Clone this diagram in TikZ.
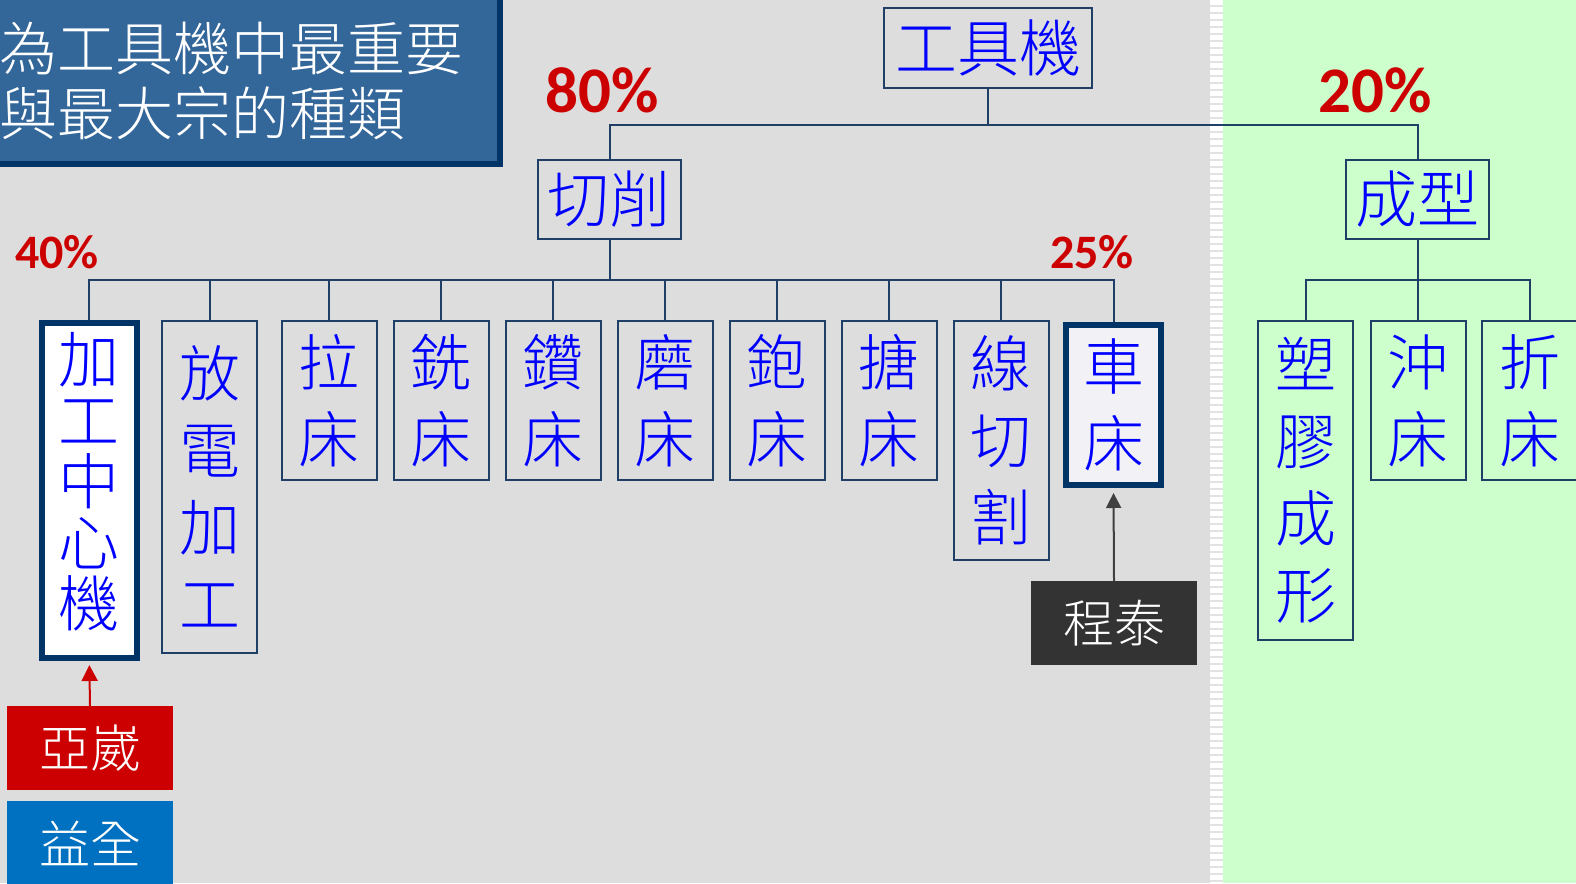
\documentclass[tikz,border=0pt]{standalone}
\usepackage{fontspec}
\newfontfamily\cjk{Noto Sans CJK TC}[UprightFont={* Light}]
\newfontfamily\pctfont{Carlito}
\usetikzlibrary{positioning,arrows.meta}

\definecolor{bggray}{HTML}{DDDDDD}
\definecolor{bggreen}{HTML}{CCFFCC}
\definecolor{stripegray}{HTML}{E2E2E2}
\definecolor{navy}{HTML}{1F3F66}
\definecolor{darknavy}{HTML}{003366}
\definecolor{titleblue}{HTML}{336699}
\definecolor{cjkblue}{HTML}{0000FF}
\definecolor{pctred}{HTML}{CC0000}
\definecolor{corpblue}{HTML}{0070C0}
\definecolor{corpdark}{HTML}{333333}
\definecolor{arrowgray}{HTML}{404040}
\definecolor{lightfill}{HTML}{F2F2F6}

\tikzset{
  tbox/.style={draw=navy, line width=2pt, inner sep=0pt, text=cjkblue, align=center,
    minimum width=95pt, anchor=north, font=\cjk\fontsize{61}{77}\selectfont},
  hibox/.style={tbox, draw=darknavy, line width=6pt},
  topbox/.style={draw=navy, line width=2pt, inner sep=0pt, text=cjkblue,
    minimum width=143pt, minimum height=79pt, font=\cjk\fontsize{62}{62}\selectfont},
  pct/.style={text=pctred, inner sep=0pt, font=\pctfont\bfseries\fontsize{65}{65}\selectfont},
  corp/.style={text=white, inner sep=0pt, minimum width=166pt, minimum height=84pt,
    font=\cjk\fontsize{51}{51}\selectfont},
  link/.style={draw=navy, line width=2pt},
}

\begin{document}
\begin{tikzpicture}[x=1pt, y=-1pt]
\useasboundingbox (0,0) rectangle (1576,883);

% background
\fill[bggray] (0,0) rectangle (1223,883);
\fill[stripegray] (1210,0) rectangle (1223,883);
\draw[white, line width=13pt, dash pattern=on 5pt off 2pt] (1216.5,0) -- (1216.5,883);
\fill[bggreen] (1223,0) rectangle (1576,883);

% title
\node[draw=darknavy, line width=6pt, fill=titleblue, text=white, anchor=north west,
  inner xsep=2pt, inner ysep=0pt, text width=498.5pt, minimum height=167pt, align=left,
  font=\cjk\fontsize{58}{65}\selectfont] (title) at (-6,-6) {為工具機中最重要\\與最大宗的種類};

% tree
\node[topbox, minimum width=208pt] (root) at (988,48) {工具機};
\node[topbox] (cut) at (609.5,199.5) {切削};
\node[topbox] (form) at (1417.5,199.5) {成型};

\node[hibox, fill=white, minimum height=335pt, text depth=22pt, font=\cjk\fontsize{61}{61}\selectfont] (c1) at (89.3,320) {加\\工\\中\\心\\機};
\node[tbox, minimum height=332pt] (c2) at (209.5,320) {放\\電\\加\\工};
\node[tbox, minimum height=159pt] (c3) at (329.3,320) {拉\\床};
\node[tbox, minimum height=159pt] (c4) at (441.3,320) {銑\\床};
\node[tbox, minimum height=159pt] (c5) at (553.3,320) {鑽\\床};
\node[tbox, minimum height=159pt] (c6) at (665.3,320) {磨\\床};
\node[tbox, minimum height=159pt] (c7) at (777.3,320) {鉋\\床};
\node[tbox, minimum height=159pt] (c8) at (889.3,320) {搪\\床};
\node[tbox, minimum height=239pt] (c9) at (1001.3,320) {線\\切\\割};
\node[hibox, fill=lightfill, minimum height=160pt] (c10) at (1113.5,322) {車\\床};

\node[tbox, minimum height=319pt] (f1) at (1305.5,320) {塑\\膠\\成\\形};
\node[tbox, minimum height=159pt] (f2) at (1418,320) {沖\\床};
\node[tbox, minimum height=159pt] (f3) at (1529.5,320) {折\\床};

\draw[link] (root.south) -- ++(0,36) -| (cut.north);
\draw[link] (root.south) -- ++(0,36) -| (form.north);
\draw[link] (cut.south) -- ++(0,40) -| (c1.north);
\draw[link] (cut.south) -- ++(0,40) -| (c2.north);
\draw[link] (cut.south) -- ++(0,40) -| (c3.north);
\draw[link] (cut.south) -- ++(0,40) -| (c4.north);
\draw[link] (cut.south) -- ++(0,40) -| (c5.north);
\draw[link] (cut.south) -- ++(0,40) -| (c6.north);
\draw[link] (cut.south) -- ++(0,40) -| (c7.north);
\draw[link] (cut.south) -- ++(0,40) -| (c8.north);
\draw[link] (cut.south) -- ++(0,40) -| (c9.north);
\draw[link] (cut.south) -- ++(0,40) -| (c10.north);
\draw[link] (form.south) -- ++(0,40) -| (f1.north);
\draw[link] (form.south) -- ++(0,40) -| (f2.north);
\draw[link] (form.south) -- ++(0,40) -| (f3.north);

% shares
\node[pct] (p80) at (602,90) {80\%};
\node[pct] (p20) at (1375,90) {20\%};
\node[pct, font=\pctfont\bfseries\fontsize{48}{48}\selectfont] (p40) at (57,252.5) {40\%};
\node[pct, font=\pctfont\bfseries\fontsize{48}{48}\selectfont] (p25) at (1092,252.5) {25\%};

% makers
\node[corp, fill=pctred] (ys) at (90,748) {亞崴};
\node[corp, fill=corpblue] (yq) at (90,843) {益全};
\node[corp, fill=corpdark] (ct) at (1114,623) {程泰};

\draw[pctred, line width=2pt, -{Triangle[width=16pt,length=16pt]}, shorten >=4pt] (ys.north) -- (c1.south);
\draw[arrowgray, line width=2pt, -{Triangle[width=15pt,length=15pt]}, shorten >=5pt] (ct.north) -- (c10.south);
\end{tikzpicture}
\end{document}
